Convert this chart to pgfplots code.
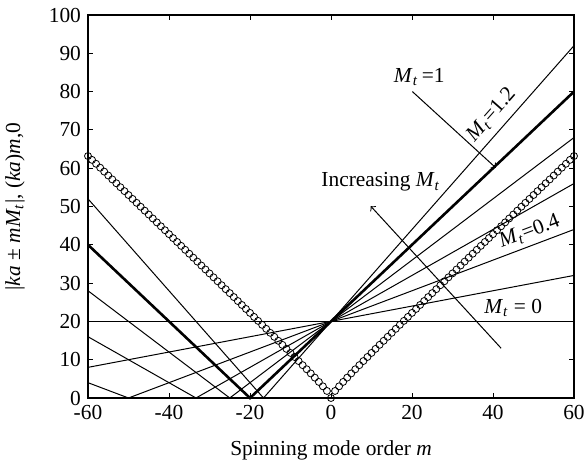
\documentclass[border=0pt]{standalone}
\usepackage{fontspec}
\setmainfont{Liberation Serif}
\usepackage{pgfplots}
\pgfplotsset{compat=1.18}
\newcommand{\Mt}{\textit{M}\textsubscript{\textit{t}}}
\newcommand{\fs}{\fontsize{10.7}{12.8}\selectfont}

\begin{document}
\begin{tikzpicture}
\begin{axis}[
  scale only axis,
  width=243pt, height=191.5pt,
  xmin=-60, xmax=60, ymin=0, ymax=100,
  xtick={-60,-40,...,60}, ytick={0,10,...,100},
  major tick length=2.5pt,
  tick style={black, line width=0.4pt},
  axis line style={line width=0.8pt},
  /pgf/number format/assume math mode=true,
  ticklabel style={font=\fs},
  xlabel={Spinning mode order \textit{m}},
  ylabel={|\textit{ka} ± \textit{mM}\textsubscript{\textit{t}}|, (\textit{ka})\textit{m},0},
  label style={font=\fs},
  xlabel style={at={(axis description cs:0.5,-0.136)}, anchor=center},
  ylabel style={at={(axis description cs:-0.150,0.5)}, anchor=center},
  clip=false,
]
% |ka + m M_t| with ka = 20
\addplot[black, line width=0.5pt] coordinates {(-60,20) (60,20)};
\addplot[black, line width=0.5pt] coordinates {(-60,8) (60,32)};
\addplot[black, line width=0.5pt] coordinates {(-60,4) (-50,0) (60,44)};
\addplot[black, line width=0.5pt] coordinates {(-60,16) (-33.333,0) (60,56)};
\addplot[black, line width=0.5pt] coordinates {(-60,28) (-25,0) (60,68)};
\addplot[black, line width=1.3pt] coordinates {(-60,40) (-20,0) (60,80)};
\addplot[black, line width=0.5pt] coordinates {(-60,52) (-16.667,0) (60,92)};
% cut-off (ka)_{m,0}
\addplot[black, line width=0.4pt, only marks, mark=o, mark size=1.75pt] coordinates {
(-60,63.18) (-59,62.17) (-58,61.15) (-57,60.13) (-56,59.11) (-55,58.09) (-54,57.07) (-53,56.06)
(-52,55.04) (-51,54.02) (-50,53.00) (-49,51.98) (-48,50.96) (-47,49.94) (-46,48.92) (-45,47.90)
(-44,46.87) (-43,45.85) (-42,44.83) (-41,43.81) (-40,42.79) (-39,41.76) (-38,40.74) (-37,39.72)
(-36,38.69) (-35,37.67) (-34,36.64) (-33,35.61) (-32,34.59) (-31,33.56) (-30,32.53) (-29,31.51)
(-28,30.48) (-27,29.45) (-26,28.42) (-25,27.39) (-24,26.36) (-23,25.32) (-22,24.29) (-21,23.25)
(-20,22.22) (-19,21.18) (-18,20.14) (-17,19.10) (-16,18.06) (-15,17.02) (-14,15.98) (-13,14.93)
(-12,13.88) (-11,12.83) (-10,11.77) (-9,10.71) (-8,9.65) (-7,8.58) (-6,7.50) (-5,6.42)
(-4,5.32) (-3,4.20) (-2,3.05) (-1,1.84) (0,0)
(1,1.84) (2,3.05) (3,4.20) (4,5.32) (5,6.42) (6,7.50) (7,8.58) (8,9.65)
(9,10.71) (10,11.77) (11,12.83) (12,13.88) (13,14.93) (14,15.98) (15,17.02) (16,18.06)
(17,19.10) (18,20.14) (19,21.18) (20,22.22) (21,23.25) (22,24.29) (23,25.32) (24,26.36)
(25,27.39) (26,28.42) (27,29.45) (28,30.48) (29,31.51) (30,32.53) (31,33.56) (32,34.59)
(33,35.61) (34,36.64) (35,37.67) (36,38.69) (37,39.72) (38,40.74) (39,41.76) (40,42.79)
(41,43.81) (42,44.83) (43,45.85) (44,46.87) (45,47.90) (46,48.92) (47,49.94) (48,50.96)
(49,51.98) (50,53.00) (51,54.02) (52,55.04) (53,56.06) (54,57.07) (55,58.09) (56,59.11)
(57,60.13) (58,61.15) (59,62.17) (60,63.18)
};
% annotations
\node[font=\fs] at (axis cs:21.8,83.9) {\Mt\,=1};
\draw[->, line width=0.5pt] (axis cs:20.1,80) -- (axis cs:40.7,60.1);
\node[font=\fs, rotate=48.6] at (axis cs:39.6,73.9) {\Mt=1.2};
\node[font=\fs] at (axis cs:12.3,56.4) {Increasing \Mt};
\draw[->, line width=0.5pt] (axis cs:42,13) -- (axis cs:9.8,50.1);
\node[font=\fs, rotate=20.7] at (axis cs:49,43.4) {\Mt=0.4};
\node[font=\fs] at (axis cs:45,23.6) {\Mt\ = 0};
\end{axis}
\pgfresetboundingbox
\path ([shift={(-44pt,-31.5pt)}]current axis.south west) rectangle ([shift={(5.5pt,7.5pt)}]current axis.north east);
\end{tikzpicture}
\end{document}
